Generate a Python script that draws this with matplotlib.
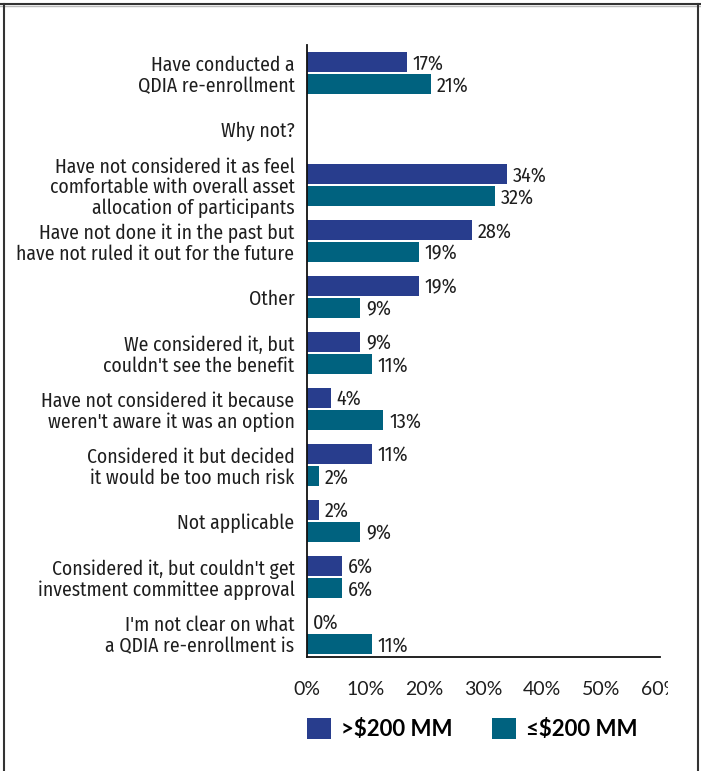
import matplotlib.pyplot as plt
from matplotlib.transforms import Bbox
import numpy as np

categories = [
    "Have conducted a\nQDIA re-enrollment",
    "Why not?",
    "Have not considered it as feel\ncomfortable with overall asset\nallocation of participants",
    "Have not done it in the past but\nhave not ruled it out for the future",
    "Other",
    "We considered it, but\ncouldn't see the benefit",
    "Have not considered it because\nweren't aware it was an option",
    "Considered it but decided\nit would be too much risk",
    "Not applicable",
    "Considered it, but couldn't get\ninvestment committee approval",
    "I'm not clear on what\na QDIA re-enrollment is",
]
large_plans = [17, None, 34, 28, 19, 9, 4, 11, 2, 6, 0]
small_plans = [21, None, 32, 19, 9, 11, 13, 2, 9, 6, 11]
series_names = [">$200 MM", "\u2264$200 MM"]
xticks = [0, 10, 20, 30, 40, 50, 60]

BLUE = "#283d8d"
TEAL = "#00627f"
TEXT = "#1e1e1e"
narrow = ["Fira Sans Condensed", "DejaVu Sans"]
tick_font = ["Lato", "DejaVu Sans"]

W, H = 701, 771
fig = plt.figure(figsize=(W / 100, H / 100), dpi=100)
ax = fig.add_axes([307 / W, (H - 657) / H, 353 / W, 612 / H])

y = np.arange(len(categories))
bh = 0.36
off = 0.2

handles = []
for vals, color, sign in [(large_plans, BLUE, -1), (small_plans, TEAL, 1)]:
    idx = [i for i, v in enumerate(vals) if v is not None]
    v = [vals[i] for i in idx]
    pos = y[idx] + sign * off
    bars = ax.barh(pos, v, height=bh, color=color)
    handles.append(bars)
    for p, val in zip(pos, v):
        ax.text(val + 1.0, p + 0.03, f"{val}%", va="center", ha="left",
                fontsize=14.5, family=narrow, color=TEXT)

ax.set_xlim(0, 60)
ax.set_ylim(len(categories) - 0.57, -0.5)
ax.set_yticks(y)
ax.set_yticklabels(categories, family=narrow, fontsize=14.1, color=TEXT,
                   linespacing=1.07)
ax.set_xticks(xticks)
ax.set_xticklabels([f"{t}%" for t in xticks], family=tick_font, fontsize=14,
                   color=TEXT)
ax.tick_params(axis="y", length=0, pad=9)
ax.tick_params(axis="x", length=0, pad=17)
for s in ["top", "right"]:
    ax.spines[s].set_visible(False)
for s in ["left", "bottom"]:
    ax.spines[s].set_color("#111111")
    ax.spines[s].set_linewidth(1.3)

# right-most tick label runs past the plot area and gets cut off
clip = Bbox.from_extents(0, 0, 668, H)
for lbl in ax.get_xticklabels():
    lbl.set_clip_box(clip)
    lbl.set_clip_on(True)

fig.legend(handles, series_names, loc="upper left",
           bbox_to_anchor=(307 / W, (H - 718) / H), ncol=2, frameon=False,
           borderpad=0, borderaxespad=0, handlelength=1.1, handleheight=1.1,
           handletextpad=0.45, columnspacing=1.75,
           prop={"family": tick_font, "size": 16, "weight": "bold"})

# panel frame
fig.add_artist(plt.Line2D([0, 1], [1 - 3.5 / H] * 2, color="#333333", lw=1.5))
fig.add_artist(plt.Line2D([0, 1], [1 - 6 / H] * 2, color="#bbbbbb", lw=1))
for x in (3.5 / W, 697.5 / W):
    fig.add_artist(plt.Line2D([x, x], [0, 1 - 4 / H], color="#333333", lw=1.5))

fig.savefig("out.png", dpi=100)
